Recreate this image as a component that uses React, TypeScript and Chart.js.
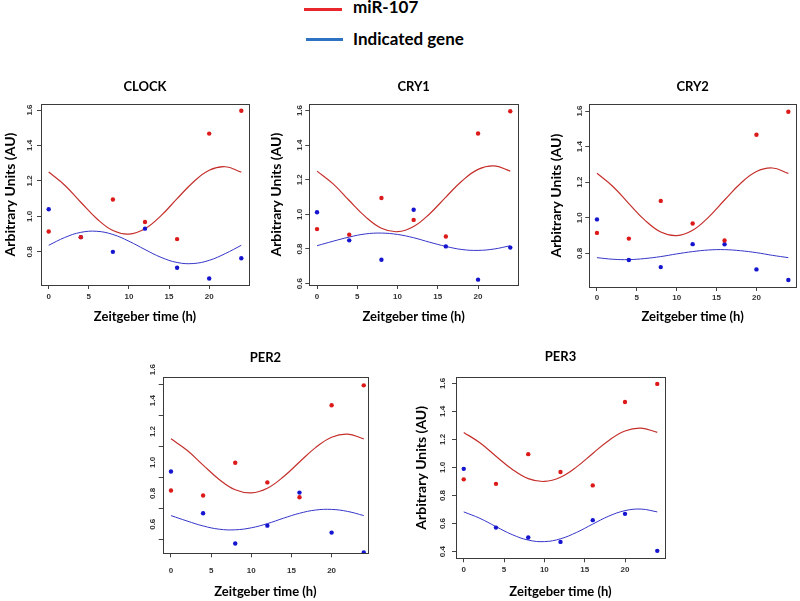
import React, { useEffect, useRef } from 'react';
import { Chart, registerables } from 'chart.js';

Chart.register(...registerables);

// ---- data ----
const HOURS = [0, 4, 8, 12, 16, 20, 24];
const FIT_HOURS = [0, 2, 4, 6, 8, 10, 12, 14, 16, 18, 20, 22, 24];
const X_TICKS = [0, 5, 10, 15, 20];

const MIR107_POINTS = [0.915, 0.883, 1.095, 0.968, 0.872, 1.467, 1.596];
const MIR107_FIT = [1.25, 1.176, 1.08, 0.987, 0.92, 0.9, 0.93, 1.004, 1.1, 1.193, 1.26, 1.28, 1.25];

const CLOCK_POINTS = [1.04, 0.883, 0.8, 0.931, 0.71, 0.65, 0.764];
const CLOCK_FIT = [0.837, 0.881, 0.91, 0.916, 0.898, 0.86, 0.813, 0.769, 0.74, 0.734, 0.752, 0.79, 0.837];

const CRY1_POINTS = [1.012, 0.85, 0.738, 1.027, 0.815, 0.623, 0.808];
const CRY1_FIT = [0.819, 0.845, 0.869, 0.887, 0.892, 0.884, 0.865, 0.839, 0.815, 0.797, 0.792, 0.8, 0.819];

const CRY2_POINTS = [0.991, 0.763, 0.723, 0.852, 0.851, 0.71, 0.65];
const CRY2_FIT = [0.776, 0.767, 0.765, 0.771, 0.782, 0.797, 0.81, 0.819, 0.821, 0.815, 0.804, 0.789, 0.776];

const PER2_POINTS = [1.038, 0.768, 0.572, 0.688, 0.902, 0.643, 0.514];
const PER2_FIT = [0.753, 0.718, 0.686, 0.665, 0.661, 0.674, 0.701, 0.736, 0.768, 0.789, 0.793, 0.78, 0.753];

const PER3_POINTS = [0.99, 0.571, 0.5, 0.469, 0.624, 0.669, 0.405];
const PER3_FIT = [0.683, 0.637, 0.578, 0.521, 0.482, 0.471, 0.491, 0.537, 0.596, 0.653, 0.692, 0.703, 0.683];

const Y_TICKS_08 = [0.8, 1.0, 1.2, 1.4, 1.6];
const Y_TICKS_06 = [0.6, 0.8, 1.0, 1.2, 1.4, 1.6];
const Y_TICKS_04 = [0.4, 0.6, 0.8, 1.0, 1.2, 1.4, 1.6];

const LEGEND_LABELS = ['miR-107', 'Indicated gene'];
const X_TITLE = 'Zeitgeber time (h)';
const Y_TITLE = 'Arbitrary Units (AU)';

// ---- styles ----
const RED_POINT = '#dc1a1a';
const BLUE_POINT = '#1515d0';
const RED_LINE = '#c4302c';
const BLUE_LINE = '#3535c8';
const TEXT_FAMILY = "Lato, 'Open Sans', sans-serif";
const TICK_FAMILY = "'Liberation Sans', Arial, sans-serif";
const TICK_SIZE = 8;
const TICK_LEN = 4;

type PanelSpec = {
  gene: string;
  points: number[];
  fit: number[];
  yTicks: number[];
  l: number; t: number; r: number; b: number;
  xMin: number; xMax: number; yMin: number; yMax: number;
  titleY: number;
  yTitleX: number | null;
  yLabelX: number;
  yLabelShift: number;
  xLabelY: number;
  xTitleY: number;
};

const PANELS: PanelSpec[] = [
  { gene: 'CLOCK', points: CLOCK_POINTS, fit: CLOCK_FIT, yTicks: Y_TICKS_08,
    l: 41, t: 104, r: 251, b: 285, xMin: -0.96, xMax: 24.96, yMin: 0.613, yMax: 1.634,
    titleY: 87, yTitleX: 10, yLabelX: 30, yLabelShift: 0, xLabelY: 296, xTitleY: 317 },
  { gene: 'CRY1', points: CRY1_POINTS, fit: CRY1_FIT, yTicks: Y_TICKS_06,
    l: 309.3, t: 104.3, r: 519.3, b: 285, xMin: -0.96, xMax: 24.96, yMin: 0.592, yMax: 1.636,
    titleY: 87, yTitleX: 276, yLabelX: 300, yLabelShift: 0, xLabelY: 295.5, xTitleY: 317 },
  { gene: 'CRY2', points: CRY2_POINTS, fit: CRY2_FIT, yTicks: Y_TICKS_08,
    l: 589.3, t: 104.3, r: 798, b: 287, xMin: -0.96, xMax: 24.96, yMin: 0.611, yMax: 1.638,
    titleY: 87, yTitleX: 556.7, yLabelX: 579.3, yLabelShift: 0, xLabelY: 296.7, xTitleY: 317 },
  { gene: 'PER2', points: PER2_POINTS, fit: PER2_FIT, yTicks: Y_TICKS_06,
    l: 162.7, t: 376.7, r: 369.3, b: 553.3, xMin: -1.03, xMax: 24.53, yMin: 0.509, yMax: 1.652,
    titleY: 358.3, yTitleX: null, yLabelX: 153.3, yLabelShift: -15, xLabelY: 570, xTitleY: 591.7 },
  { gene: 'PER3', points: PER3_POINTS, fit: PER3_FIT, yTicks: Y_TICKS_04,
    l: 456, t: 377.3, r: 667, b: 558.3, xMin: -0.96, xMax: 24.96, yMin: 0.352, yMax: 1.643,
    titleY: 357.3, yTitleX: 421.7, yLabelX: 442.3, yLabelShift: 0, xLabelY: 569, xTitleY: 591.7 },
];

const boxPlugin = {
  id: 'plotBox',
  afterDraw(chart: any) {
    const { ctx, chartArea: a } = chart;
    ctx.save();
    ctx.strokeStyle = '#3a3a3a';
    ctx.lineWidth = 1;
    const x0 = Math.round(a.left) + 0.5;
    const y0 = Math.round(a.top) + 0.5;
    ctx.strokeRect(x0, y0, Math.round(a.right) - Math.round(a.left), Math.round(a.bottom) - Math.round(a.top));
    ctx.restore();
  },
};

function geometry(p: PanelSpec) {
  const L = Math.floor(p.yTitleX != null ? p.yTitleX - 8.4 : p.yLabelX - 8);
  const T = Math.floor(p.titleY - 9.8);
  const R = Math.ceil(p.r + 2);
  const B = Math.min(601, Math.ceil(p.xTitleY + 7.8));
  return { L, T, R, B, W: R - L, H: B - T };
}

function Panel({ p }: { p: PanelSpec }) {
  const ref = useRef<HTMLCanvasElement>(null);
  const g = geometry(p);

  useEffect(() => {
    if (!ref.current) return;
    const mctx = document.createElement('canvas').getContext('2d')!;
    mctx.font = `bold ${TICK_SIZE}px ${TICK_FAMILY}`;
    const widest = Math.max(...p.yTicks.map((v) => mctx.measureText(v.toFixed(1)).width));
    const yPad = Math.max(0, p.l - TICK_LEN - widest / 2 - p.yLabelX);
    const xPad = Math.max(0, p.xLabelY - 3.6 - p.b - TICK_LEN);
    const titlePadTop = p.titleY - 7.8 - g.T;
    const titlePadBottom = p.t - g.T - titlePadTop - 15.6;
    const tickFont = { family: TICK_FAMILY, size: TICK_SIZE, weight: 'bold' as const };
    const gridOpts = { display: true, drawOnChartArea: false, drawTicks: true, tickLength: TICK_LEN, color: '#444', lineWidth: 1 };

    const chart = new Chart(ref.current, {
      type: 'scatter',
      data: {
        datasets: [
          { label: LEGEND_LABELS[0], data: HOURS.map((h, i) => ({ x: h, y: MIR107_POINTS[i] })),
            backgroundColor: RED_POINT, borderColor: RED_POINT, pointRadius: 2.2, pointBorderWidth: 0, order: 0 },
          { label: LEGEND_LABELS[1], data: HOURS.map((h, i) => ({ x: h, y: p.points[i] })),
            backgroundColor: BLUE_POINT, borderColor: BLUE_POINT, pointRadius: 2.2, pointBorderWidth: 0, order: 1 },
          { label: LEGEND_LABELS[0] + ' fit', data: FIT_HOURS.map((h, i) => ({ x: h, y: MIR107_FIT[i] })),
            showLine: true, borderColor: RED_LINE, borderWidth: 1.2, pointRadius: 0, tension: 0.4, order: 2 },
          { label: LEGEND_LABELS[1] + ' fit', data: FIT_HOURS.map((h, i) => ({ x: h, y: p.fit[i] })),
            showLine: true, borderColor: BLUE_LINE, borderWidth: 1, pointRadius: 0, tension: 0.4, order: 3 },
        ],
      },
      options: {
        animation: false,
        responsive: false,
        devicePixelRatio: 1,
        events: [],
        layout: { padding: { left: 0, top: 0, right: g.R - p.r, bottom: 0 } },
        plugins: {
          legend: { display: false },
          tooltip: { enabled: false },
          title: {
            display: true,
            text: p.gene,
            fullSize: false,
            color: '#000',
            font: { family: TEXT_FAMILY, size: 13, weight: 'bold', lineHeight: 1.2 },
            padding: { top: titlePadTop, bottom: titlePadBottom },
          },
        },
        scales: {
          x: {
            type: 'linear',
            min: p.xMin,
            max: p.xMax,
            afterBuildTicks: (s: any) => { s.ticks = X_TICKS.map((v) => ({ value: v })); },
            afterFit: (s: any) => { s.height = g.B - p.b; },
            grid: gridOpts,
            border: { display: false },
            ticks: { font: tickFont, color: '#333', padding: xPad, maxRotation: 0, autoSkip: false,
              callback: (v: any) => String(v) },
            title: { display: true, text: X_TITLE, color: '#000',
              font: { family: TEXT_FAMILY, size: 13, weight: 'bold', lineHeight: 1.2 },
              padding: { top: 0, bottom: Math.max(0, g.B - p.xTitleY - 7.8) } },
          },
          y: {
            type: 'linear',
            min: p.yMin,
            max: p.yMax,
            afterBuildTicks: (s: any) => { s.ticks = p.yTicks.map((v) => ({ value: v })); },
            afterFit: (s: any) => { s.width = p.l - g.L; },
            grid: gridOpts,
            border: { display: false },
            ticks: { font: tickFont, color: '#333', padding: yPad, minRotation: 90, maxRotation: 90,
              crossAlign: 'center', labelOffset: p.yLabelShift, autoSkip: false,
              callback: (v: any) => Number(v).toFixed(1) },
            title: p.yTitleX != null
              ? { display: true, text: Y_TITLE, color: '#000',
                  font: { family: TEXT_FAMILY, size: 14, weight: 'bold', lineHeight: 1.2 },
                  padding: { top: p.yTitleX - 8.4 - g.L, bottom: 0 } }
              : { display: false },
          },
        },
      } as any,
      plugins: [boxPlugin],
    });
    return () => chart.destroy();
  }, []);

  return (
    <canvas
      ref={ref}
      width={g.W}
      height={g.H}
      style={{ position: 'absolute', left: g.L, top: g.T, width: g.W, height: g.H }}
    />
  );
}

export default function App() {
  const legendText: React.CSSProperties = {
    position: 'absolute', left: 353, fontFamily: TEXT_FAMILY, fontWeight: 700,
    fontSize: 17, lineHeight: '20px', color: '#000', whiteSpace: 'nowrap',
  };
  return (
    <div style={{ position: 'absolute', left: 0, top: 0, width: 800, height: 601, background: '#fff', overflow: 'hidden' }}>
      <div style={{ position: 'absolute', left: 304, top: 8, width: 38, height: 3, background: '#e8262b' }} />
      <div style={{ ...legendText, top: -3.2 }}>{LEGEND_LABELS[0]}</div>
      <div style={{ position: 'absolute', left: 306, top: 38, width: 37, height: 3, background: '#2e72c4' }} />
      <div style={{ ...legendText, top: 28.8 }}>{LEGEND_LABELS[1]}</div>
      {PANELS.map((p) => <Panel key={p.gene} p={p} />)}
    </div>
  );
}
